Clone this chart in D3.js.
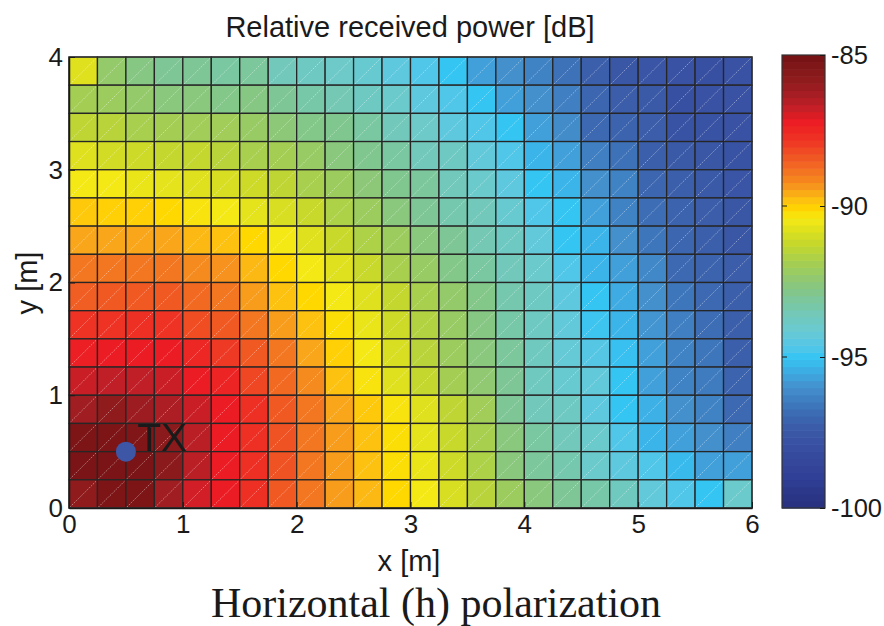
<!DOCTYPE html>
<html>
<head>
<meta charset="utf-8">
<script src="https://cdn.jsdelivr.net/npm/d3@7"></script>
<style>
  html, body { margin: 0; padding: 0; background: #fff; }
  svg { display: block; }
  text { font-family: "Liberation Sans", Arial, Helvetica, sans-serif; fill: #1a1a1a; }
</style>
</head>
<body>
<svg id="chart" width="884" height="626"></svg>
<script>
// Cell edges of the measurement grid (metres)
const xEdges = d3.range(0, 6.001, 0.25);
const yEdges = d3.range(0, 4.001, 0.25);

// Relative received power per cell [dB], one row per y band, listed from the top band (y 3.75–4) down to y 0–0.25
const powerRows = [
  [-90.8, -92.3, -92.7, -93.0, -93.0, -93.2, -93.1, -93.6, -93.8, -93.9, -94.1, -94.4, -94.7, -95.0, -95.7, -96.0, -96.3, -96.7, -97.2, -97.5, -97.6, -97.8, -97.9, -97.8],
  [-91.9, -92.1, -92.3, -92.6, -92.6, -92.8, -92.7, -93.0, -93.3, -93.5, -93.8, -94.0, -94.4, -94.7, -95.0, -95.7, -96.0, -96.4, -97.0, -97.3, -97.4, -97.9, -97.8, -97.8],
  [-91.4, -91.5, -91.8, -91.9, -92.0, -92.0, -92.2, -92.5, -92.8, -92.9, -93.2, -93.6, -93.9, -94.4, -94.7, -95.0, -95.7, -96.1, -96.9, -97.1, -97.3, -97.7, -97.7, -97.8],
  [-90.8, -91.0, -91.1, -91.3, -91.3, -91.5, -91.8, -91.9, -92.2, -92.6, -92.9, -93.2, -93.6, -93.8, -94.3, -94.7, -95.3, -95.7, -96.4, -96.7, -97.2, -97.4, -97.5, -97.7],
  [-90.4, -90.4, -90.6, -90.7, -90.8, -90.9, -91.1, -91.4, -91.8, -92.1, -92.5, -92.9, -93.1, -93.6, -94.0, -94.4, -95.0, -95.3, -96.0, -96.3, -97.0, -97.2, -97.4, -97.6],
  [-89.9, -90.0, -90.0, -90.1, -90.3, -90.4, -90.7, -90.9, -91.2, -91.7, -92.1, -92.6, -93.0, -93.4, -93.6, -94.1, -94.7, -95.0, -95.7, -96.3, -96.8, -97.1, -97.3, -97.5],
  [-89.5, -89.5, -89.5, -89.5, -89.7, -89.8, -90.1, -90.4, -90.8, -91.2, -91.7, -92.1, -92.6, -93.0, -93.5, -93.8, -94.3, -95.0, -95.3, -96.0, -96.6, -97.0, -97.2, -97.5],
  [-88.9, -88.9, -88.9, -88.9, -89.2, -89.3, -89.7, -90.1, -90.4, -90.8, -91.2, -91.8, -92.2, -92.8, -93.2, -93.6, -94.0, -94.7, -95.3, -95.7, -96.2, -96.9, -97.1, -97.3],
  [-88.5, -88.4, -88.4, -88.4, -88.7, -88.9, -89.4, -89.8, -90.1, -90.4, -90.8, -91.3, -91.8, -92.3, -92.8, -93.4, -93.8, -94.4, -95.0, -95.5, -96.0, -96.6, -96.9, -97.2],
  [-87.8, -87.8, -87.7, -87.8, -88.2, -88.4, -88.9, -89.4, -89.8, -90.2, -90.6, -91.1, -91.6, -92.2, -92.7, -93.3, -93.8, -94.3, -94.9, -95.3, -95.9, -96.4, -96.8, -97.2],
  [-87.3, -87.2, -87.2, -87.2, -87.5, -87.9, -88.4, -88.9, -89.5, -90.0, -90.4, -90.9, -91.5, -92.1, -92.6, -93.1, -93.7, -94.2, -94.6, -95.1, -95.7, -96.3, -96.6, -97.2],
  [-86.8, -86.7, -86.7, -86.8, -87.2, -87.4, -88.1, -88.7, -89.2, -89.8, -90.3, -90.8, -91.3, -91.9, -92.4, -93.0, -93.7, -94.1, -94.3, -95.0, -95.7, -96.3, -96.5, -97.1],
  [-86.2, -85.8, -86.1, -86.4, -86.8, -87.2, -87.7, -88.4, -88.9, -89.5, -89.9, -90.3, -90.8, -91.4, -92.0, -93.0, -93.6, -93.8, -94.4, -95.0, -95.4, -96.0, -96.3, -96.9],
  [-85.3, -85.3, -85.4, -85.7, -86.6, -87.2, -87.7, -88.3, -88.9, -89.4, -89.8, -90.2, -90.7, -91.2, -91.8, -92.6, -93.2, -93.6, -94.0, -94.7, -95.3, -95.7, -96.0, -96.4],
  [-85.2, -85.2, -85.2, -85.7, -86.6, -87.2, -87.7, -88.3, -88.9, -89.4, -89.8, -90.2, -90.6, -91.1, -91.7, -92.6, -93.1, -93.4, -94.0, -94.4, -94.7, -95.2, -95.7, -95.7],
  [-85.8, -85.3, -85.3, -86.2, -86.9, -87.2, -87.7, -88.4, -88.9, -89.4, -89.7, -90.1, -90.4, -90.9, -91.5, -92.1, -92.6, -93.0, -93.3, -93.7, -94.3, -94.7, -95.0, -94.0]
];

// Colour map: value stops [dB] and their colours
const cmapStops = [-85, -85.2, -85.7, -86.2, -86.7, -87.2, -87.8, -88.3, -88.7, -89.0, -89.3, -89.5, -89.8, -90.1, -90.4, -90.7, -91.0, -91.3, -91.8, -92.1, -92.5, -92.9, -93.3, -93.6, -94.0, -94.4, -94.7, -95.0, -95.3, -95.7, -96.0, -96.4, -96.8, -97.2, -97.6, -98.0, -99.0, -100];
const cmapColors = ["#761214", "#7a1416", "#8b1a1c", "#a01d22", "#c11f27", "#ec1c24", "#ee3324", "#f05323", "#f26922", "#f47d20", "#f6921d", "#f9a61a", "#fdc10f", "#ffd800", "#f5e915", "#e5e31b", "#d2dc24", "#c3d72e", "#a8cf4d", "#9dcc5e", "#8dc878", "#80c68f", "#77c8a8", "#72c8ba", "#6bcacc", "#5ec8df", "#50c6e8", "#35c5f3", "#3bb5e9", "#41a0da", "#4390cd", "#3f7fc2", "#3c6db5", "#3b5fab", "#3a55a5", "#384ea0", "#2f3f95", "#28307d"];

const xTicks = [0, 1, 2, 3, 4, 5, 6];
const yTicks = [0, 1, 2, 3, 4];
const cbTicks = [-85, -90, -95, -100];

// Transmitter position [m]
const txPos = [0.5, 0.5];
const txLabel = "TX";

// Plain hyphen-minus labels
const plainFormat = d => String(d);

const color = d3.scaleLinear().domain(cmapStops).range(cmapColors).interpolate(d3.interpolateRgb).clamp(true);

const svg = d3.select("#chart");
const x = d3.scaleLinear().domain([0, 6]).range([69, 752]);
const y = d3.scaleLinear().domain([0, 4]).range([508, 57]);

// Flatten cells
const nRows = powerRows.length;
const cells = [];
powerRows.forEach((row, r) => {
  const j = nRows - 1 - r; // y band index from the bottom
  row.forEach((v, i) => {
    cells.push({ x0: xEdges[i], x1: xEdges[i + 1], y0: yEdges[j], y1: yEdges[j + 1], v });
  });
});

const plot = svg.append("g");
plot.selectAll("rect.cell").data(cells).join("rect")
  .attr("class", "cell")
  .attr("x", d => x(d.x0))
  .attr("y", d => y(d.y1))
  .attr("width", d => x(d.x1) - x(d.x0))
  .attr("height", d => y(d.y0) - y(d.y1))
  .attr("fill", d => color(d.v))
  .attr("stroke", "#262626")
  .attr("stroke-width", 1.3);

// Faint triangle seam in each facet
plot.selectAll("line.seam").data(cells).join("line")
  .attr("class", "seam")
  .attr("x1", d => x(d.x0) + 1)
  .attr("y1", d => y(d.y0) - 1)
  .attr("x2", d => x(d.x1) - 1)
  .attr("y2", d => y(d.y1) + 1)
  .attr("stroke", "rgba(255,255,255,0.55)")
  .attr("stroke-width", 0.8)
  .attr("stroke-dasharray", "1.5,1.2");

// Frame
svg.append("rect")
  .attr("x", x(0)).attr("y", y(4))
  .attr("width", x(6) - x(0)).attr("height", y(0) - y(4))
  .attr("fill", "none").attr("stroke", "#333").attr("stroke-width", 1.2);

// Axes
const fontSize = 26;
const gx = svg.append("g").attr("transform", `translate(0,${y(0)})`)
  .call(d3.axisBottom(x).tickValues(xTicks).tickFormat(plainFormat).tickSizeInner(-6).tickSizeOuter(0).tickPadding(7));
const gy = svg.append("g").attr("transform", `translate(${x(0)},0)`)
  .call(d3.axisLeft(y).tickValues(yTicks).tickFormat(plainFormat).tickSizeInner(-6).tickSizeOuter(0).tickPadding(6));
[gx, gy].forEach(g => {
  g.select(".domain").attr("stroke", "#1a1a1a").attr("stroke-width", 1.5);
  g.selectAll(".tick line").attr("stroke", "#1a1a1a");
  g.selectAll(".tick text").attr("font-size", fontSize).attr("font-family", "Liberation Sans, Arial, sans-serif").attr("fill", "#1a1a1a");
});

// Transmitter marker
svg.append("circle")
  .attr("cx", x(txPos[0])).attr("cy", y(txPos[1])).attr("r", 10)
  .attr("fill", "#3d56a6");
svg.append("text")
  .attr("x", x(txPos[0]) + 11).attr("y", y(txPos[1]) - 0.5)
  .attr("font-size", 39).attr("fill", "#1a1a1a")
  .text(txLabel);

// Titles and labels
svg.append("text").attr("x", 410).attr("y", 37).attr("text-anchor", "middle")
  .attr("font-size", 29).text("Relative received power [dB]");
svg.append("text").attr("x", 409).attr("y", 571).attr("text-anchor", "middle")
  .attr("font-size", 29).text("x [m]");
svg.append("text").attr("transform", "translate(37,283) rotate(-90)").attr("text-anchor", "middle")
  .attr("font-size", 29).text("y [m]");
svg.append("text").attr("x", 436).attr("y", 617).attr("text-anchor", "middle")
  .style("font-family", "'Liberation Serif', 'Times New Roman', serif")
  .attr("font-size", 42).text("Horizontal (h) polarization");

// Colour bar
const cb = d3.scaleLinear().domain([-100, -85]).range([508, 55]);
const nLevels = 64;
const step = 15 / nLevels;
const levels = d3.range(nLevels).map(k => -100 + k * step);
const cbX = 782, cbW = 43;
svg.append("g").selectAll("rect").data(levels).join("rect")
  .attr("x", cbX).attr("width", cbW)
  .attr("y", d => cb(d + step))
  .attr("height", d => cb(d) - cb(d + step) + 0.6)
  .attr("fill", d => color(d + step / 2));
svg.append("rect").attr("x", cbX).attr("y", cb(-85)).attr("width", cbW).attr("height", cb(-100) - cb(-85))
  .attr("fill", "none").attr("stroke", "#333").attr("stroke-width", 1.2);
const cbAxis = svg.append("g").attr("transform", `translate(${cbX + cbW},0)`)
  .call(d3.axisRight(cb).tickValues(cbTicks).tickFormat(plainFormat).tickSizeInner(-5).tickSizeOuter(0).tickPadding(6));
cbAxis.select(".domain").remove();
cbAxis.selectAll(".tick line").attr("stroke", "#1a1a1a");
cbAxis.selectAll(".tick text").attr("font-size", 25.5).attr("fill", "#1a1a1a")
  .attr("font-family", "Liberation Sans, Arial, sans-serif");
svg.append("g").selectAll("line").data(cbTicks.slice(1, 3)).join("line")
  .attr("x1", cbX).attr("x2", cbX + 5)
  .attr("y1", d => cb(d)).attr("y2", d => cb(d))
  .attr("stroke", "#1a1a1a");
</script>
</body>
</html>
